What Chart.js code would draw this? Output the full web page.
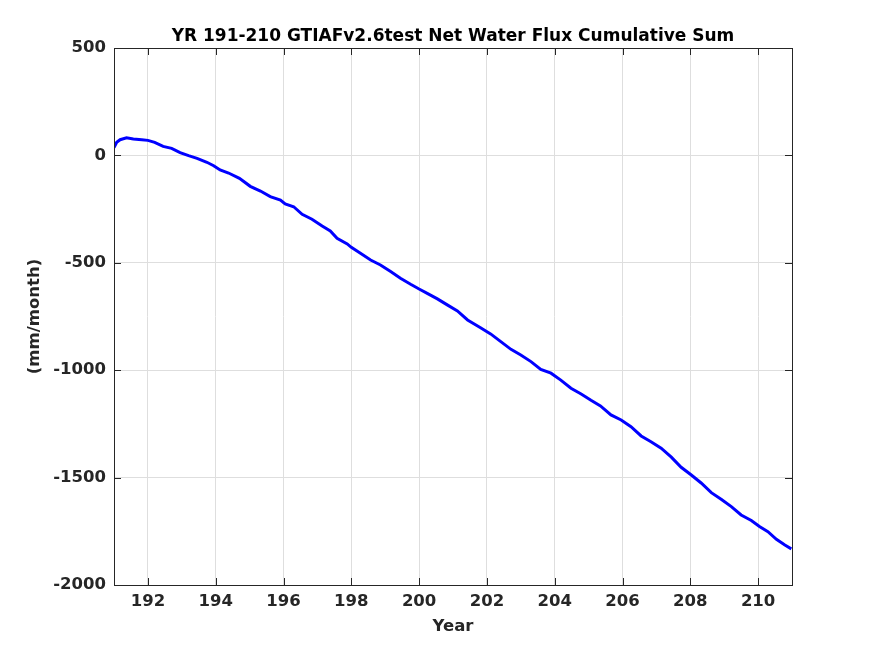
<!DOCTYPE html>
<html>
<head>
<meta charset="utf-8">
<script src="https://cdn.jsdelivr.net/npm/chart.js@4"></script>
<style>
  body { margin: 0; background: #fff; }
  #fluxChart { display: block; }
</style>
</head>
<body>
<canvas id="fluxChart" width="875" height="656"></canvas>
<script>
// valores (año, mm/month)
const years = [
  191.00, 191.08, 191.18, 191.37, 191.57, 191.82, 192.00, 192.20, 192.45, 192.70,
  192.95, 193.20, 193.45, 193.74, 193.94, 194.13, 194.38, 194.70, 195.02, 195.32,
  195.61, 195.91, 196.05, 196.30, 196.55, 196.84, 197.14, 197.38, 197.58, 197.88,
  198.00, 198.27, 198.57, 198.86, 199.16, 199.45, 199.75, 200.00, 200.24, 200.54,
  200.83, 201.13, 201.43, 201.80, 202.11, 202.41, 202.71, 203.00, 203.30, 203.59,
  203.89, 204.18, 204.48, 204.78, 205.07, 205.35, 205.66, 205.96, 206.25, 206.55,
  206.84, 207.14, 207.44, 207.73, 208.03, 208.32, 208.62, 208.91, 209.21, 209.50,
  209.80, 210.04, 210.29, 210.54, 210.79, 210.98
];
const cumSum = [
  36, 61, 73, 82, 76, 73, 70, 61, 42, 33,
  13, -1, -14, -32, -48, -68, -82, -107, -144, -166,
  -192, -208, -226, -239, -274, -297, -329, -352, -386, -412,
  -428, -456, -487, -510, -541, -572, -600, -622, -642, -668,
  -696, -724, -766, -801, -831, -867, -903, -929, -960, -996,
  -1014, -1046, -1084, -1111, -1140, -1166, -1208, -1232, -1263, -1306,
  -1333, -1363, -1405, -1452, -1488, -1525, -1570, -1601, -1635, -1674,
  -1700, -1728, -1752, -1787, -1814, -1832
];
const xTicks = [192, 194, 196, 198, 200, 202, 204, 206, 208, 210];
const yTicks = [-2000, -1500, -1000, -500, 0, 500];

const axisColor = '#262626';
const tickFont = { family: 'DejaVu Sans', size: 16.5, weight: 'bold' };

// caja del eje con marcas hacia adentro (estilo MATLAB)
const boxPlugin = {
  id: 'boxPlugin',
  afterDraw(chart) {
    const { ctx, chartArea: a, scales } = chart;
    const len = 7;
    ctx.save();
    ctx.strokeStyle = axisColor;
    ctx.lineWidth = 1;
    ctx.strokeRect(a.left + 0.5, a.top + 0.5, a.right - a.left, a.bottom - a.top);
    ctx.beginPath();
    xTicks.forEach(v => {
      const px = Math.round(scales.x.getPixelForValue(v)) + 0.5;
      ctx.moveTo(px, a.bottom); ctx.lineTo(px, a.bottom - len);
      ctx.moveTo(px, a.top); ctx.lineTo(px, a.top + len);
    });
    yTicks.forEach(v => {
      const py = Math.round(scales.y.getPixelForValue(v)) + 0.5;
      ctx.moveTo(a.left, py); ctx.lineTo(a.left + len, py);
      ctx.moveTo(a.right, py); ctx.lineTo(a.right - len, py);
    });
    ctx.stroke();
    ctx.restore();
  }
};

const ctx = document.getElementById('fluxChart').getContext('2d');
new Chart(ctx, {
  type: 'line',
  data: {
    datasets: [{
      data: years.map((x, i) => ({ x: x, y: cumSum[i] })),
      borderColor: '#0000ff',
      borderWidth: 3,
      pointRadius: 0,
      tension: 0,
      fill: false
    }]
  },
  options: {
    responsive: false,
    animation: false,
    devicePixelRatio: 1,
    layout: { padding: { top: 0, right: 83, bottom: 0, left: 0 } },
    plugins: {
      legend: { display: false },
      tooltip: { enabled: false },
      title: {
        display: true,
        fullSize: false,
        text: 'YR 191-210 GTIAFv2.6test Net Water Flux Cumulative Sum',
        color: '#000',
        font: { family: 'DejaVu Sans', size: 17, weight: 'bold' },
        padding: { top: 26, bottom: 1.6 }
      }
    },
    scales: {
      x: {
        type: 'linear',
        min: 191,
        max: 211,
        afterBuildTicks: s => { s.ticks = xTicks.map(v => ({ value: v })); },
        afterFit: s => { s.height = 71; },
        ticks: { color: axisColor, font: tickFont, padding: 7, maxRotation: 0,
                 callback: v => String(v) },
        grid: { color: '#dedede', lineWidth: 1, drawTicks: false },
        border: { display: false },
        title: {
          display: true,
          text: 'Year',
          color: axisColor,
          font: tickFont,
          padding: { top: 0, bottom: 19 }
        }
      },
      y: {
        min: -2000,
        max: 500,
        afterBuildTicks: s => { s.ticks = yTicks.map(v => ({ value: v })); },
        afterFit: s => { s.width = 114; },
        ticks: { color: axisColor, font: tickFont, padding: 8,
                 callback: v => String(v) },
        grid: { color: '#dedede', lineWidth: 1, drawTicks: false },
        border: { display: false },
        title: {
          display: true,
          text: '(mm/month)',
          color: axisColor,
          font: tickFont,
          padding: { top: 25, bottom: 0 }
        }
      }
    }
  },
  plugins: [boxPlugin]
});
</script>
</body>
</html>
